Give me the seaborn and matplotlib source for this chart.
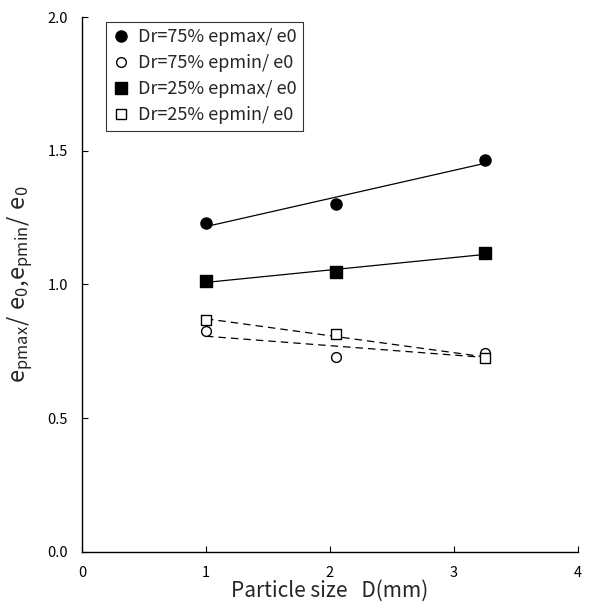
import numpy as np
import pandas as pd
import matplotlib
matplotlib.use("Agg")
import matplotlib.pyplot as plt
import seaborn as sns
from matplotlib.lines import Line2D

sns.set_style("ticks")
plt.rcParams['font.family'] = ['Noto Sans CJK JP', 'DejaVu Sans']
plt.rcParams['mathtext.fontset'] = 'custom'
plt.rcParams['mathtext.rm'] = 'Noto Sans CJK JP'
plt.rcParams['mathtext.it'] = 'Noto Sans CJK JP'

# Data
particle_size = [1.0, 2.05, 3.25]
dr75_epmax = [1.230, 1.301, 1.465]
dr75_epmin = [0.827, 0.730, 0.745]
dr25_epmax = [1.013, 1.046, 1.117]
dr25_epmin = [0.866, 0.815, 0.724]
labels = ["Dr=75% epmax/ e0", "Dr=75% epmin/ e0", "Dr=25% epmax/ e0", "Dr=25% epmin/ e0"]

series = [
    (dr75_epmax, 'o', 'black', '-', 64),
    (dr75_epmin, 'o', 'white', '--', 50),
    (dr25_epmax, 's', 'black', '-', 64),
    (dr25_epmin, 's', 'white', '--', 50),
]

fig = plt.figure(figsize=(5.94, 6.09), dpi=100)
ax = fig.add_axes([0.138, 0.094, 0.835, 0.878])

handles = []
for (vals, mk, fc, ls, s), lab in zip(series, labels):
    df = pd.DataFrame({"x": particle_size, "y": vals})
    lkw = dict(color='black', lw=0.9, zorder=2)
    if ls == '--':
        lkw['dashes'] = (6, 4)
    sns.regplot(data=df, x="x", y="y", ax=ax, ci=None, truncate=True,
                marker=mk,
                scatter_kws=dict(s=s, facecolors=fc, edgecolors='black', linewidths=1.0,
                                 alpha=1, zorder=3),
                line_kws=lkw)
    handles.append(Line2D([], [], marker=mk, ls='none', markerfacecolor=fc,
                          markeredgecolor='black', markersize=8 if fc == 'black' else 7,
                          markeredgewidth=1.0, label=lab))

ax.set_xlim(0, 4)
ax.set_ylim(0, 2.0)
ax.set_xticks([0, 1, 2, 3, 4])
ax.set_yticks([0.0, 0.5, 1.0, 1.5, 2.0])
ax.set_yticklabels(["0.0", "0.5", "1.0", "1.5", "2.0"])
ax.tick_params(direction='in', length=4, width=0.8, labelsize=10.5, colors='black')
ax.tick_params(axis='x', pad=10)
ax.tick_params(axis='y', pad=10)
for sp in ['top', 'right']:
    ax.spines[sp].set_visible(False)
for sp in ['left', 'bottom']:
    ax.spines[sp].set_color('black')
    ax.spines[sp].set_linewidth(1.0)

ax.set_xlabel("Particle size   D(mm)", fontsize=15, labelpad=0)
ax.set_ylabel(r"$\mathregular{e_{pmax}/\ e_0{,}e_{pmin}/\ e_0}$", fontsize=17, labelpad=8)

leg = ax.legend(handles=handles, loc='upper left', bbox_to_anchor=(0.03, 1.008),
                frameon=True, fancybox=False, edgecolor='black', fontsize=13,
                handlelength=1.0, handletextpad=0.45, borderpad=0.35, labelspacing=0.45)
leg.get_frame().set_linewidth(0.8)

fig.savefig("out.png", dpi=100)
